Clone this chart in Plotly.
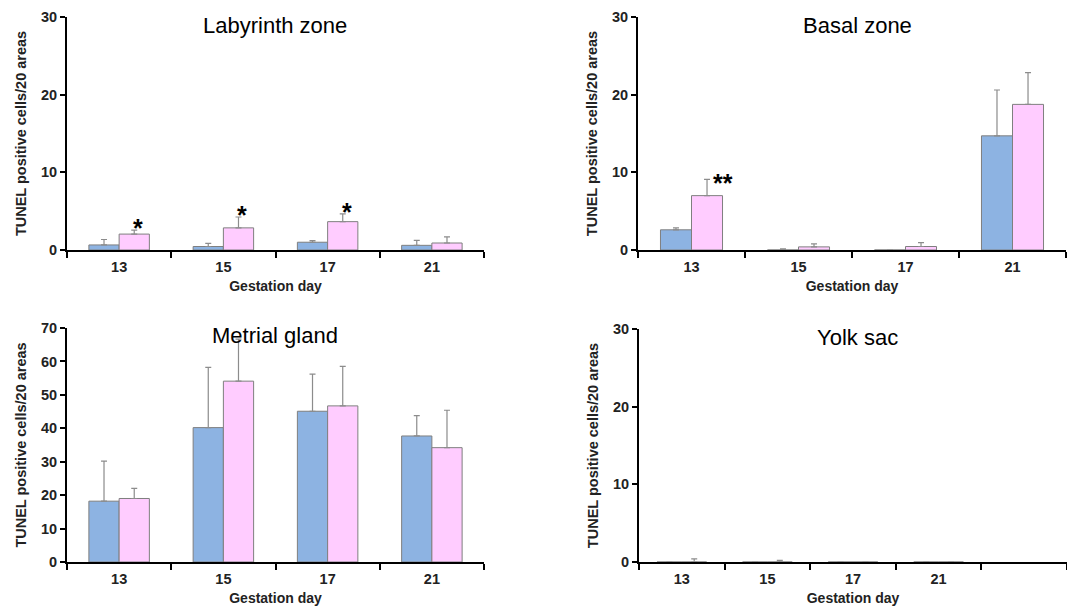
import plotly.graph_objects as go

days = ["13", "15", "17", "21"]

lab_ctrl = [0.65, 0.45, 1.0, 0.6]
lab_ctrl_err = [0.7, 0.4, 0.2, 0.65]
lab_trt = [2.05, 2.85, 3.65, 0.9]
lab_trt_err = [0.5, 1.4, 1.0, 0.8]
lab_sig = ["*", "*", "*", ""]

bas_ctrl = [2.6, 0.0, 0.0, 14.7]
bas_ctrl_err = [0.25, 0.15, 0.0, 5.9]
bas_trt = [7.0, 0.4, 0.45, 18.75]
bas_trt_err = [2.1, 0.4, 0.5, 4.1]
bas_sig = ["**", "", "", ""]

met_ctrl = [18.2, 40.2, 45.1, 37.7]
met_ctrl_err = [12.0, 18.0, 11.1, 6.1]
met_trt = [19.0, 54.1, 46.7, 34.2]
met_trt_err = [3.0, 12.6, 11.8, 11.2]

yolk_ctrl = [0.0, 0.0, 0.0, 0.0]
yolk_ctrl_err = [0.0, 0.0, 0.0, 0.0]
yolk_trt = [0.0, 0.0, 0.0, 0.0]
yolk_trt_err = [0.4, 0.2, 0.0, 0.0]

titles = ["Labyrinth zone", "Basal zone", "Metrial gland", "Yolk sac"]
y_ranges = [30, 30, 70, 30]
y_dticks = [10, 10, 10, 10]

BLUE = "#8DB3E2"
PINK = "#FFCCFF"
OUTLINE = "#7F7F7F"
ERRC = "#8C8C8C"
FONT = "Arial, Liberation Sans, sans-serif"
BARGAP = 0.42

W, H = 1067, 610
def px(x):
    return min(1.0, max(0.0, x / W))
def py(y):
    return min(1.0, max(0.0, 1 - y / H))

x_domains = [[px(67), px(484)], [px(638), px(1066)], [px(67), px(484)], [px(639), px(1067)]]
y_domains = [[py(250), py(17)], [py(250), py(17)], [py(562), py(328)], [py(562), py(329)]]
title_pos = [(275, 25), (857, 25), (275, 335), (857, 337)]

panels = [
    (lab_ctrl, lab_ctrl_err, lab_trt, lab_trt_err, lab_sig),
    (bas_ctrl, bas_ctrl_err, bas_trt, bas_trt_err, bas_sig),
    (met_ctrl, met_ctrl_err, met_trt, met_trt_err, None),
    (yolk_ctrl, yolk_ctrl_err, yolk_trt, yolk_trt_err, None),
]

fig = go.Figure()
annotations = []
layout = {}

for i, (c, ce, t, te, sig) in enumerate(panels):
    n = i + 1
    xa = "x" if n == 1 else f"x{n}"
    ya = "y" if n == 1 else f"y{n}"
    for vals, errs, col in ((c, ce, BLUE), (t, te, PINK)):
        fig.add_trace(go.Bar(
            x=days, y=vals, xaxis=xa, yaxis=ya,
            marker=dict(color=col, line=dict(color=OUTLINE, width=1)),
            error_y=dict(type="data", array=errs, arrayminus=[0] * len(errs),
                         symmetric=False, color=ERRC, thickness=1.2, width=3),
            showlegend=False, hoverinfo="skip",
        ))
    cats = days + ([" "] if i == 3 else [])
    layout[f"xaxis{'' if n == 1 else n}"] = dict(
        domain=x_domains[i], anchor=ya, type="category",
        categoryorder="array", categoryarray=cats,
        tickvals=cats, ticktext=[f"<b>{d}</b>" for d in cats],
        range=[-0.5, len(cats) - 0.5], automargin=False,
        showline=True, linecolor="black", linewidth=2,
        ticks="outside", tickson="boundaries", ticklen=6, tickwidth=2, tickcolor="black",
        ticklabelstandoff=3,
        tickfont=dict(family=FONT, size=14.5, color="#222"),
        title=dict(text="<b>Gestation day</b>", font=dict(family=FONT, size=14, color="#222"), standoff=7),
        showgrid=False, zeroline=False, fixedrange=True,
    )
    layout[f"yaxis{'' if n == 1 else n}"] = dict(
        domain=y_domains[i], anchor=xa, range=[0, y_ranges[i]], dtick=y_dticks[i],
        automargin=False,
        showline=True, linecolor="black", linewidth=2,
        ticks="outside", ticklen=5, tickwidth=2, tickcolor="black",
        tickfont=dict(family=FONT, size=14.5, color="#222"),
        tickprefix="<b>", ticksuffix="</b>",
        title=dict(text="<b>TUNEL positive cells/20 areas</b>", font=dict(family=FONT, size=14.5, color="#222"), standoff=11),
        showgrid=False, zeroline=False, fixedrange=True,
    )
    tx, ty = title_pos[i]
    annotations.append(dict(text=titles[i], x=px(tx), y=py(ty), xref="paper", yref="paper",
                            xanchor="center", yanchor="middle", showarrow=False,
                            font=dict(family=FONT, size=22, color="black")))
    if sig:
        off = (1 - BARGAP) / 4
        for k, s in enumerate(sig):
            if s:
                double = len(s) > 1
                annotations.append(dict(text=f"<b>{s}</b>", x=k + off, y=t[k] + te[k],
                                        xref=xa, yref=ya, xanchor="left", yanchor="middle",
                                        xshift=4 if double else -3, yshift=-4 if double else 2,
                                        showarrow=False,
                                        font=dict(family=FONT, size=25, color="black")))

fig.update_layout(**layout)
fig.update_layout(
    width=W, height=H, margin=dict(l=0, r=0, t=0, b=0),
    paper_bgcolor="white", plot_bgcolor="white",
    barmode="group", bargap=BARGAP, bargroupgap=0,
    annotations=annotations, showlegend=False,
    font=dict(family=FONT, color="#222"),
)

fig.write_html("out.html", config={"displayModeBar": False},
               post_script="document.body.style.margin='0px';document.body.style.overflow='hidden';")
